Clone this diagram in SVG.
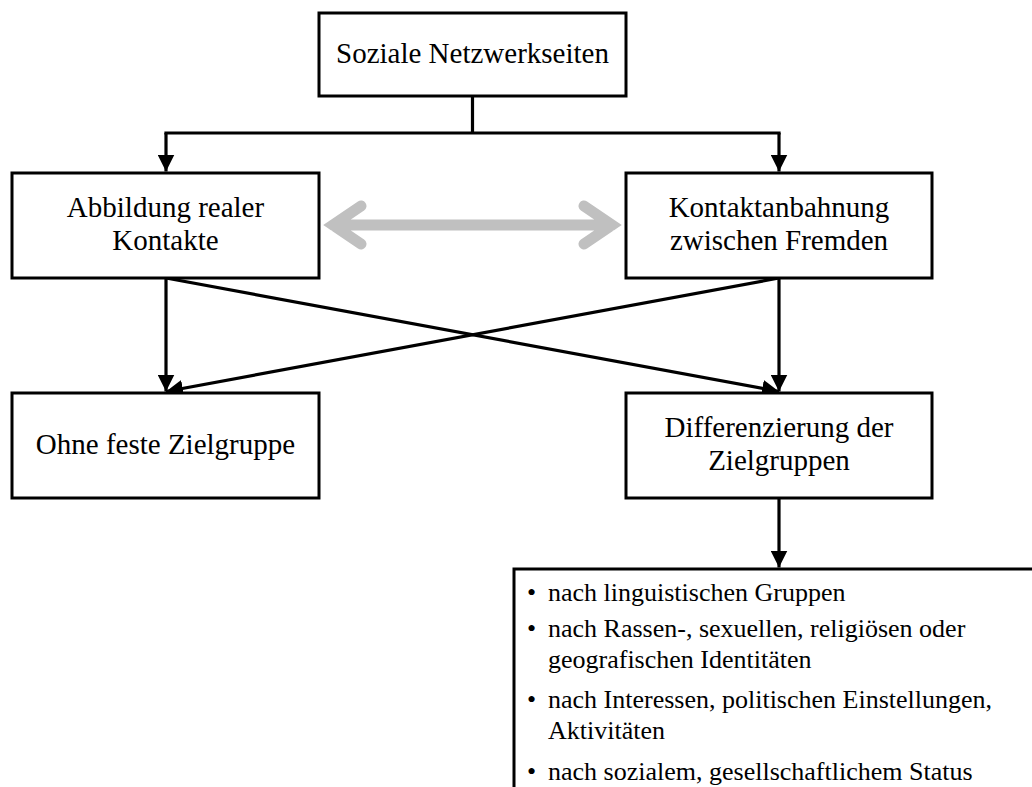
<svg xmlns="http://www.w3.org/2000/svg" width="1032" height="787" viewBox="0 0 1032 787">
  <defs>
    <style>
      .box { fill: #ffffff; stroke: #000000; stroke-width: 3; }
      .lbl { font-family: "Liberation Serif", "DejaVu Serif", serif; font-size: 29px; fill: #000000; text-anchor: middle; }
      .item { font-family: "Liberation Serif", "DejaVu Serif", serif; font-size: 26px; fill: #000000; }
      .wire { fill: none; stroke: #000000; stroke-width: 3.2; }
      .arr { marker-end: url(#head); }
      .link { fill: none; stroke: #c0c0c0; stroke-width: 11; stroke-linecap: round; stroke-linejoin: miter; stroke-miterlimit: 10; }
    </style>
    <marker id="head" viewBox="0 0 17 17" refX="17" refY="8.5" markerWidth="17" markerHeight="17" markerUnits="userSpaceOnUse" orient="auto">
      <path d="M0,0 L17,8.5 L0,17 Z" fill="#000000"/>
    </marker>
  </defs>

  <!-- connectors -->
  <g id="connectors">
    <path class="wire" d="M472.5,96 V133 M164.4,133 H780.6"/>
    <path class="wire arr" d="M166,133 V171.5"/>
    <path class="wire arr" d="M779,133 V171.5"/>
    <path class="wire arr" d="M166,278 V391.5"/>
    <path class="wire arr" d="M779,278 V391.5"/>
    <path class="wire arr" d="M166,278 L779,391.5"/>
    <path class="wire arr" d="M779,278 L166,391.5"/>
    <path class="wire arr" d="M779,498 V567.5"/>
    <!-- grey two-way link between the two kinds of network -->
    <path class="link" d="M361,206 L333,225 L361,244 M333,225 H612 M584,206 L612,225 L584,244"/>
  </g>

  <g id="node-netzwerkseiten">
    <rect class="box" x="319" y="13" width="307" height="83"/>
    <text class="lbl" x="472.5" y="63">Soziale Netzwerkseiten</text>
  </g>

  <g id="node-abbildung">
    <rect class="box" x="12" y="173" width="307" height="105"/>
    <text class="lbl" x="165.5" y="217">Abbildung realer</text>
    <text class="lbl" x="165.5" y="250">Kontakte</text>
  </g>

  <g id="node-kontaktanbahnung">
    <rect class="box" x="626" y="173" width="306" height="105"/>
    <text class="lbl" x="779" y="217">Kontaktanbahnung</text>
    <text class="lbl" x="779" y="250">zwischen Fremden</text>
  </g>

  <g id="node-ohne-zielgruppe">
    <rect class="box" x="12" y="393" width="307" height="105"/>
    <text class="lbl" x="165.5" y="454">Ohne feste Zielgruppe</text>
  </g>

  <g id="node-differenzierung">
    <rect class="box" x="626" y="393" width="306" height="105"/>
    <text class="lbl" x="779" y="437">Differenzierung der</text>
    <text class="lbl" x="779" y="470">Zielgruppen</text>
  </g>

  <g id="node-liste">
    <rect class="box" x="514" y="569" width="600" height="300"/>
    <text class="item" x="527" y="601">•</text>
    <text class="item" x="548" y="601">nach linguistischen Gruppen</text>
    <text class="item" x="527" y="637">•</text>
    <text class="item" x="548" y="637">nach Rassen-, sexuellen, religiösen oder</text>
    <text class="item" x="548" y="668">geografischen Identitäten</text>
    <text class="item" x="527" y="708">•</text>
    <text class="item" x="548" y="708">nach Interessen, politischen Einstellungen,</text>
    <text class="item" x="548" y="739">Aktivitäten</text>
    <text class="item" x="527" y="780">•</text>
    <text class="item" x="548" y="780">nach sozialem, gesellschaftlichem Status</text>
  </g>
</svg>
